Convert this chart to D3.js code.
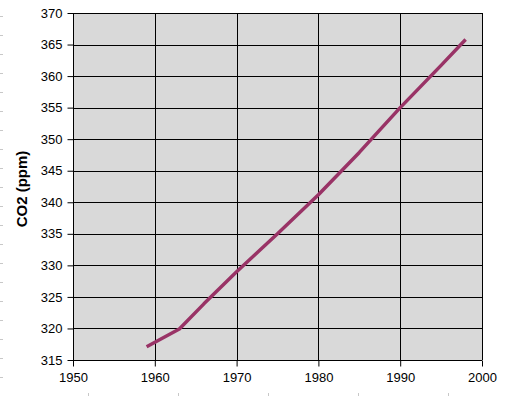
<!DOCTYPE html>
<html>
<head>
<meta charset="utf-8">
<script src="https://cdn.jsdelivr.net/npm/d3@7"></script>
<style>
  html, body { margin: 0; padding: 0; background: #fff; }
  svg { display: block; }
  text { font-family: Arial, "Liberation Sans", sans-serif; }
</style>
</head>
<body>
<div id="chart"></div>
<script>
var WIDTH = 505, HEIGHT = 396;

// Data
var years = [1959, 1963, 1966, 1970, 1975, 1980, 1985, 1990, 1995, 1998];
var co2 = [317.1, 319.9, 323.9, 329.0, 335.0, 341.2, 347.9, 355.0, 361.7, 365.8];
var xTicks = [1950, 1960, 1970, 1980, 1990, 2000];
var yTicks = [315, 320, 325, 330, 335, 340, 345, 350, 355, 360, 365, 370];

var margin = {left: 73, right: 23, top: 13, bottom: 36};

var svg = d3.select('#chart').append('svg')
    .attr('width', WIDTH)
    .attr('height', HEIGHT);

var x = d3.scaleLinear().domain([1950, 2000]).range([margin.left, WIDTH - margin.right]);
var y = d3.scaleLinear().domain([315, 370]).range([HEIGHT - margin.bottom, margin.top]);

// faint ruler marks along the left and bottom edges
var rulerLeft = d3.range(20).map(function(i) { return 16 + i * 19; });
svg.append('g').selectAll('line').data(rulerLeft).enter().append('line')
    .attr('x1', 0).attr('x2', 3)
    .attr('y1', function(d) { return d + 0.5; })
    .attr('y2', function(d) { return d + 0.5; })
    .style('stroke', '#c8c8c8');
var rulerBottom = d3.range(5).map(function(i) { return 88 + i * 90; });
svg.append('g').selectAll('line').data(rulerBottom).enter().append('line')
    .attr('x1', function(d) { return d + 0.5; })
    .attr('x2', function(d) { return d + 0.5; })
    .attr('y1', 393).attr('y2', 396)
    .style('stroke', '#c8c8c8');

// plot area
svg.append('rect')
    .attr('x', x(1950)).attr('y', y(370))
    .attr('width', x(2000) - x(1950))
    .attr('height', y(315) - y(370))
    .style('fill', '#d9d9d9');

// grid lines
svg.append('g').selectAll('line').data(yTicks).enter().append('line')
    .attr('x1', x(1950)).attr('x2', x(2000))
    .attr('y1', function(d) { return Math.round(y(d)) + 0.5; })
    .attr('y2', function(d) { return Math.round(y(d)) + 0.5; })
    .style('stroke', 'black');
svg.append('g').selectAll('line').data(xTicks).enter().append('line')
    .attr('x1', function(d) { return Math.round(x(d)) + 0.5; })
    .attr('x2', function(d) { return Math.round(x(d)) + 0.5; })
    .attr('y1', y(370)).attr('y2', y(315))
    .style('stroke', 'black');

// axes
var yAxis = svg.append('g')
    .attr('transform', 'translate(' + (x(1950) + 0.5) + ',0)')
    .call(d3.axisLeft(y).tickValues(yTicks).tickSize(6).tickPadding(5).tickFormat(d3.format('d')));
var xAxis = svg.append('g')
    .attr('transform', 'translate(0,' + (y(315) + 0.5) + ')')
    .call(d3.axisBottom(x).tickValues(xTicks).tickSize(6).tickPadding(6).tickFormat(d3.format('d')));

[yAxis, xAxis].forEach(function(ax) {
    ax.select('.domain').remove();
    ax.selectAll('.tick line').style('stroke', 'black');
    ax.selectAll('.tick text')
        .style('font-family', 'Arial, "Liberation Sans", sans-serif')
        .style('font-size', '13px')
        .style('fill', 'black');
});

// CO2 line
var line = d3.line()
    .x(function(d, i) { return x(years[i]); })
    .y(function(d) { return y(d); });

svg.append('path')
    .datum(co2)
    .attr('d', line)
    .style('fill', 'none')
    .style('stroke', '#993366')
    .style('stroke-width', 3.5)
    .style('stroke-linejoin', 'round');

// y axis title
svg.append('text')
    .attr('transform', 'translate(26.5,' + 189 + ') rotate(-90)')
    .attr('text-anchor', 'middle')
    .style('font-size', '15px')
    .style('font-weight', 'bold')
    .text('CO2 (ppm)');
</script>
</body>
</html>
